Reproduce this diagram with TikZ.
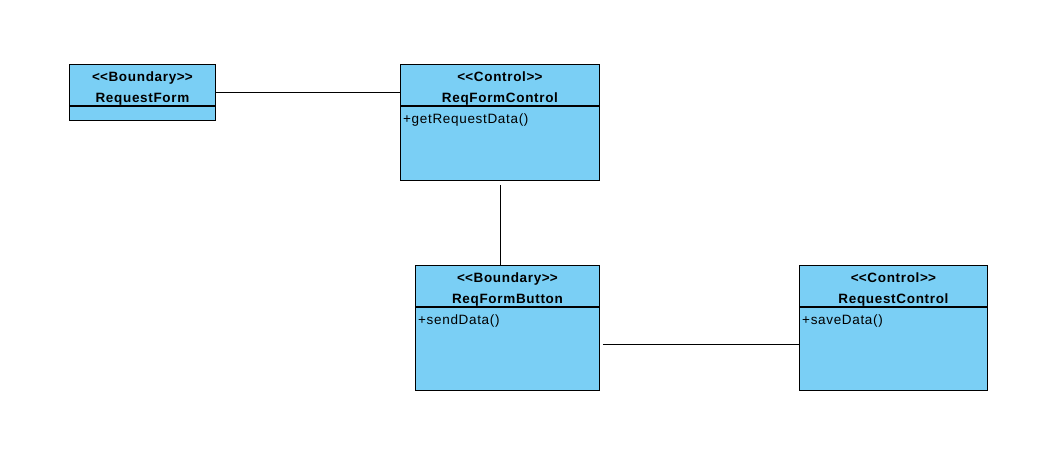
\documentclass[tikz,border=0pt]{standalone}
\usepackage{fontspec}
\setmainfont{Liberation Sans}[LetterSpace=5]
\usepackage{xcolor}
\definecolor{classBlue}{RGB}{122,207,245}
\usetikzlibrary{positioning,calc}

\begin{document}
\begin{tikzpicture}[x=1pt, y=-1pt,
  head/.style={draw, line width=0.9pt, fill=classBlue, anchor=north west,
               inner sep=0pt, minimum height=41pt},
  title/.style={align=center, font=\bfseries\fontsize{13.5}{21}\selectfont, inner sep=0pt},
  body/.style={draw, line width=0.9pt, fill=classBlue, inner sep=0pt},
  op/.style={font=\fontsize{13.5}{15}\selectfont, inner sep=0pt},
  link/.style={line width=0.9pt}
]
\useasboundingbox (0,0) rectangle (1037,470);

%% RequestForm
\node[head, minimum width=146pt] (rfh) at (69,64) {};
\node[title] (rft) at ([yshift=-4pt]rfh.center) {<\kern0pt<Boundary>\kern0pt>\\RequestForm};
\node[body, minimum width=146pt, minimum height=14pt, below=0pt of rfh] (rfb) {};

%% ReqFormControl
\node[head, minimum width=199pt] (rch) at (400,64) {};
\node[title] (rct) at ([yshift=-4pt]rch.center) {<\kern0pt<Control>\kern0pt>\\ReqFormControl};
\node[body, minimum width=199pt, minimum height=74pt, below=0pt of rch] (rcb) {};
\node[op, below right=8pt and 3pt of rcb.north west] (rco) {+getRequestData()};

%% ReqFormButton
\node[head, minimum width=184pt] (rbh) at (415,265) {};
\node[title] (rbt) at ([yshift=-4pt]rbh.center) {<\kern0pt<Boundary>\kern0pt>\\ReqFormButton};
\node[body, minimum width=184pt, minimum height=83pt, below=0pt of rbh] (rbb) {};
\node[op, below right=8pt and 3pt of rbb.north west] (rbo) {+sendData()};

%% RequestControl
\node[head, minimum width=188pt] (qch) at (799,265) {};
\node[title] (qct) at ([yshift=-4pt]qch.center) {<\kern0pt<Control>\kern0pt>\\RequestControl};
\node[body, minimum width=188pt, minimum height=83pt, below=0pt of qch] (qcb) {};
\node[op, below right=8pt and 3pt of qcb.north west] (qco) {+saveData()};

%% associations
\draw[link] ($(rfh.north east)!.5!(rfb.south east)$) coordinate (a1) -- (a1 -| rch.west);
\draw[link] ([yshift=-4pt]rcb.south) coordinate (a2) -- (a2 |- rbh.north);
\draw[link] ([xshift=3pt,yshift=4pt]rbb.east) coordinate (a3) -- (a3 -| qcb.west);
\end{tikzpicture}
\end{document}
